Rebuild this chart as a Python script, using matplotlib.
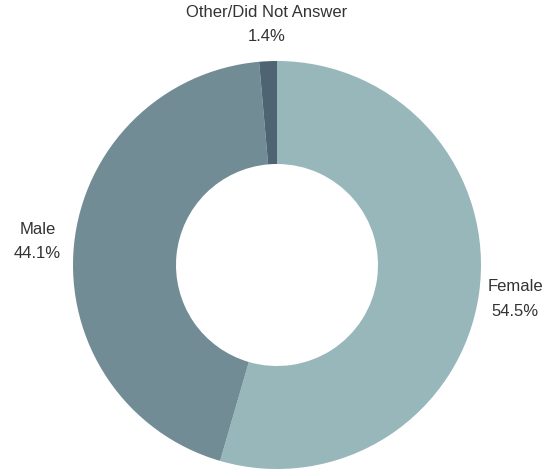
import matplotlib
matplotlib.use("Agg")
import matplotlib.pyplot as plt

labels = ["Female", "Male", "Other/Did Not Answer"]
values = [54.5, 44.1, 1.4]
colors = ["#97b7bb", "#728c95", "#4f6473"]

plt.rcParams['font.family'] = ['Liberation Sans', 'DejaVu Sans']

fig = plt.figure(figsize=(5.44, 4.70), dpi=100)
ax = fig.add_axes([0, 0, 1, 1])

texts = [f"{l}\n{v}%" for l, v in zip(labels, values)]
wedges, lbls = ax.pie(values, colors=colors, startangle=90, counterclock=False,
                      labels=texts, labeldistance=1.18,
                      center=(277, 205), radius=204,
                      wedgeprops=dict(width=103, linewidth=0),
                      textprops=dict(fontsize=12, color="#333333", linespacing=1.8))
for t in lbls:
    t.set_ha("center")
    t.set_va("center")

ax.set_xlim(0, 544)
ax.set_ylim(0, 470)
ax.set_aspect("equal")
ax.axis("off")
fig.savefig("out.png", dpi=100)
